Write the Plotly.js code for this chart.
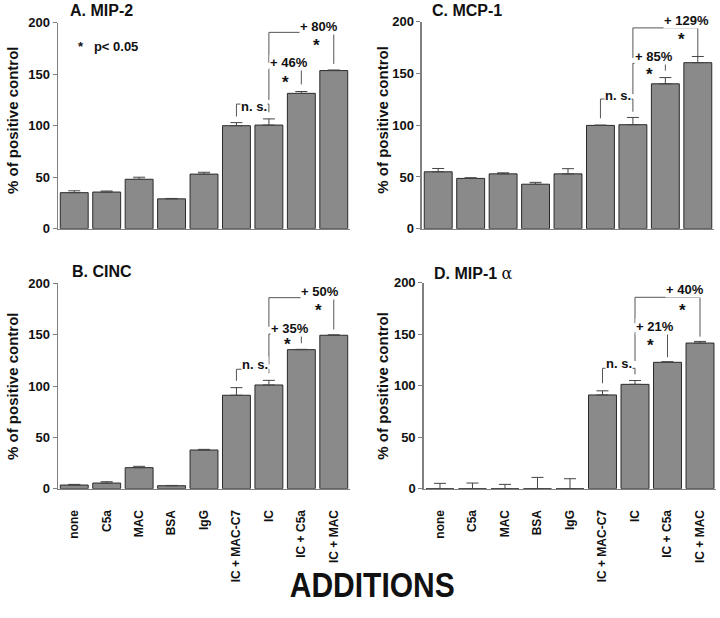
<!DOCTYPE html>
<html>
<head>
<meta charset="utf-8">
<script src="https://cdn.plot.ly/plotly-3.0.1.min.js"></script>
<style>html,body{margin:0;padding:0;background:#fff;}#chart{width:720px;height:618px;}</style>
</head>
<body>
<div id="chart"></div>
<script>
// ---- data ----
const categories = ['none', 'C5a', 'MAC', 'BSA', 'IgG', 'IC + MAC-C7', 'IC', 'IC + C5a', 'IC + MAC'];
const mip2 = [35, 35.6, 48, 29, 53, 100, 100.6, 131.4, 153.5];
const mip2Err = [1.8, 1.0, 2.0, 0.4, 1.8, 3.0, 6.0, 1.8, 0.6];
const mcp1 = [55, 48.6, 53, 43, 53, 99.8, 100.5, 140, 160.4];
const mcp1Err = [3.2, 0.7, 1.0, 1.8, 5.0, 0.3, 7.0, 6.0, 6.0];
const cinc = [3.6, 5.5, 20.5, 2.9, 37.7, 91, 101, 135.4, 149.4];
const cincErr = [0.6, 1.3, 1.3, 0.3, 0.6, 7.4, 4.5, 0.3, 0.4];
const mip1a = [0, 0, 0, 0, 0, 91, 101.3, 122.7, 141.4];
const mip1aErr = [5.2, 5.5, 4.2, 11, 9.7, 4.0, 3.7, 0.6, 1.6];
const yTicks = [0, 50, 100, 150, 200];
// increase labels: [IC vs IC + C5a, IC vs IC + MAC]
const incA = ['+ 46%', '+ 80%'];
const incB = ['+ 35%', '+ 50%'];
const incC = ['+ 85%', '+ 129%'];
const incD = ['+ 21%', '+ 40%'];

const FONT = 'Liberation Sans, Arial, Helvetica, sans-serif';
const idx = categories.map((_, i) => i);
const zeros = categories.map(() => 0);

function barTrace(vals, errs, xa, ya) {
  return {
    type: 'bar', x: idx, y: vals, xaxis: xa, yaxis: ya,
    width: 0.86,
    marker: {color: '#8a8a8a', line: {color: '#2a2a2a', width: 1}},
    error_y: {type: 'data', symmetric: false, array: errs, arrayminus: zeros,
              color: '#444', thickness: 1, width: 6},
    hoverinfo: 'none', showlegend: false
  };
}

const data = [
  barTrace(mip2, mip2Err, 'x', 'y'),
  barTrace(mcp1, mcp1Err, 'x2', 'y2'),
  barTrace(cinc, cincErr, 'x3', 'y3'),
  barTrace(mip1a, mip1aErr, 'x4', 'y4')
];

function xax(domain, showLabels) {
  return {
    domain: domain, range: [-0.5, 8.5], fixedrange: true,
    tickvals: idx, ticktext: categories, showticklabels: showLabels,
    tickangle: -90, ticks: '', ticklabelstandoff: 15,
    tickfont: {family: FONT, size: 12, color: '#111', weight: 'bold'},
    showline: true, linecolor: '#808080', linewidth: 1.5,
    showgrid: false, zeroline: false
  };
}
function yax(domain, anchor) {
  return {
    domain: domain, anchor: anchor, range: [0, 200], fixedrange: true,
    tickvals: yTicks, ticks: 'outside', ticklen: 4, tickcolor: '#808080',
    tickfont: {family: FONT, size: 13, color: '#111', weight: 'bold'},
    showline: true, linecolor: '#808080', linewidth: 1.5,
    showgrid: false, zeroline: false
  };
}

const layout = {
  width: 720, height: 618,
  margin: {l: 0, r: 0, t: 0, b: 0},
  paper_bgcolor: '#fff', plot_bgcolor: '#fff',
  font: {family: FONT, color: '#111'},
  bargap: 0,
  xaxis: Object.assign(xax([0.0806, 0.4861], false), {anchor: 'y'}),
  yaxis: yax([0.6299, 0.9633], 'x'),
  xaxis2: Object.assign(xax([0.5861, 0.9917], false), {anchor: 'y2'}),
  yaxis2: yax([0.6299, 0.9649], 'x2'),
  xaxis3: Object.assign(xax([0.0806, 0.4861], true), {anchor: 'y3'}),
  yaxis3: yax([0.2092, 0.5416], 'x3'),
  xaxis4: Object.assign(xax([0.5885, 0.9948], true), {anchor: 'y4'}),
  yaxis4: yax([0.2092, 0.5426], 'x4'),
  shapes: [],
  annotations: []
};

function txt(xr, yr, x, y, text, size, extra) {
  return Object.assign({xref: xr, yref: yr, x: x, y: y, text: text, showarrow: false,
    font: {family: FONT, size: size, color: '#111', weight: 'bold'},
    bgcolor: 'rgba(255,255,255,1)', borderpad: 0,
    xanchor: 'center', yanchor: 'middle'}, extra || {});
}
function bracket(xr, yr, x1, x2, top, yL, yR) {
  layout.shapes.push({type: 'path', xref: xr, yref: yr,
    path: 'M ' + x1 + ',' + yL + ' L ' + x1 + ',' + top + ' L ' + x2 + ',' + top + ' L ' + x2 + ',' + yR,
    line: {color: '#555', width: 1}, layer: 'below'});
}
function panelMarks(xr, yr, inc, g) {
  bracket(xr, yr, 5, 6, g.ns[0], g.ns[1], g.ns[2]);
  bracket(xr, yr, 6, 7, g.b1[0], g.b1[1], g.b1[2]);
  bracket(xr, yr, 6, 8, g.b2[0], g.b2[1], g.b2[2]);
  layout.annotations.push(txt(xr, yr, g.nsT[0], g.nsT[1], 'n. s.', 13));
  layout.annotations.push(txt(xr, yr, g.t1[0], g.t1[1], inc[0], 13));
  layout.annotations.push(txt(xr, yr, g.t2[0], g.t2[1], inc[1], 13, {yshift: g.t2[2] || 0}));
  layout.annotations.push(txt(xr, yr, g.s1[0], g.s1[1], '*', 17, {bgcolor: 'rgba(0,0,0,0)'}));
  layout.annotations.push(txt(xr, yr, g.s2[0], g.s2[1], '*', 17, {bgcolor: 'rgba(0,0,0,0)'}));
}
panelMarks('x', 'y', incA, {ns: [121, 109, 113], b1: [155, 125, 140], b2: [190.6, 161, 160],
  nsT: [5.55, 119], t1: [6.63, 161], t2: [7.55, 196], s1: [6.5, 142], s2: [7.47, 178]});
panelMarks('x2', 'y2', incC, {ns: [125.3, 106.7, 113], b1: [159.8, 130, 152.7], b2: [194, 165, 166],
  nsT: [5.55, 129], t1: [6.64, 166], t2: [7.65, 199.5, 1.5], s1: [6.5, 149], s2: [7.5, 183]});
panelMarks('x3', 'y3', incB, {ns: [116.3, 105, 112.4], b1: [150.6, 121, 141.6], b2: [186, 157.7, 155],
  nsT: [5.57, 121], t1: [6.64, 156], t2: [7.56, 191.8], s1: [6.56, 140], s2: [7.53, 174]});
panelMarks('x4', 'y4', incD, {ns: [116.9, 102.3, 111], b1: [151.5, 124, 127.6], b2: [185.8, 160.6, 147.6],
  nsT: [5.5, 121.7], t1: [6.62, 157], t2: [7.54, 193], s1: [6.49, 139], s2: [7.47, 173]});

// p-value legend in panel A
layout.annotations.push(txt('x', 'y', 1.03, 177, '*&nbsp;&nbsp;&nbsp;p&lt; 0.05', 13, {bgcolor: 'rgba(0,0,0,0)'}));

// panel titles
const tf = {family: FONT, size: 16, color: '#111', weight: 'bold'};
function ptitle(x, y, text) {
  layout.annotations.push({xref: 'paper', yref: 'paper', x: x, y: y, text: text, showarrow: false,
    xanchor: 'left', yanchor: 'middle', font: tf});
}
ptitle(68 / 720, 1 - 10 / 618, 'A. MIP-2');
ptitle(430 / 720, 1 - 10 / 618, 'C. MCP-1');
ptitle(70 / 720, 1 - 271.5 / 618, 'B. CINC');
ptitle(432 / 720, 1 - 273 / 618, "D. MIP-1 <span style='font-family:DejaVu Serif, serif;font-weight:normal'>&#945;</span>");

// y axis titles
function ytitle(x, y) {
  layout.annotations.push({xref: 'paper', yref: 'paper', x: x, y: y, text: '% of positive control',
    showarrow: false, textangle: -90, xanchor: 'center', yanchor: 'middle',
    font: {family: FONT, size: 15, color: '#111', weight: 'bold'}});
}
ytitle(12 / 720, 1 - 120 / 618);
ytitle(381.7 / 720, 1 - 120 / 618);
ytitle(12 / 720, 1 - 386 / 618);
ytitle(381.7 / 720, 1 - 386 / 618);

// common x-axis title
layout.annotations.push({xref: 'paper', yref: 'paper', x: 372 / 720, y: 1 - 584 / 618, text: 'ADDITIONS',
  showarrow: false, xanchor: 'center', yanchor: 'middle',
  font: {family: FONT, size: 35, color: '#111', weight: 'bold'}});

Plotly.newPlot('chart', data, layout, {staticPlot: true, displayModeBar: false}).then(function (gd) {
  // condense the ADDITIONS label like the narrow typeface of the original
  gd.querySelectorAll('.annotation-text').forEach(function (t) {
    if (t.textContent === 'ADDITIONS') {
      t.setAttribute('textLength', '165');
      t.setAttribute('lengthAdjust', 'spacingAndGlyphs');
    }
  });
});
</script>
</body>
</html>
